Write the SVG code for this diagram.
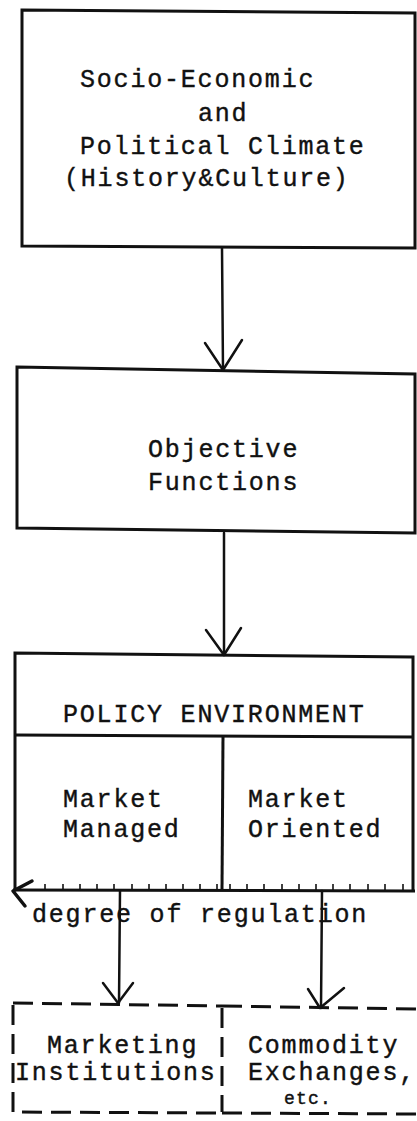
<svg xmlns="http://www.w3.org/2000/svg" width="417" height="1121" viewBox="0 0 417 1121">
<style>
.bg{fill:#ffffff}
.box{fill:none;stroke:#111;stroke-width:3;stroke-linejoin:miter}
.dash{fill:none;stroke:#111;stroke-width:3;stroke-dasharray:20 9}
.con{fill:none;stroke:#111;stroke-width:2.5;stroke-linecap:round;stroke-linejoin:round}
.tick{stroke:#111;stroke-width:1.6}
text{font-family:"Liberation Mono","Courier New",monospace;font-size:25px;letter-spacing:1.8px;fill:#111;stroke:#111;stroke-width:0.4}
.small{font-size:18px;letter-spacing:1.2px}
</style>
<rect class="bg" x="0" y="0" width="417" height="1121"/>
<g id="node-climate">
<path class="box" d="M22,10 L415,13 L415,248 L22,246 Z"/>
<text x="80" y="87">Socio-Economic</text>
<text x="198" y="121">and</text>
<text x="80" y="154">Political Climate</text>
<text x="64" y="186">(History&amp;Culture)</text>
</g>
<g id="node-objective">
<path class="box" d="M17,367 L415,374 L415,533 L17,528 Z"/>
<text x="148" y="457">Objective</text>
<text x="148" y="490">Functions</text>
</g>
<g id="node-policy">
<path class="box" d="M15,890 L15,653 L413,657 L413,891"/>
<path class="box" d="M15,735 L413,737"/>
<path class="box" d="M223,737 L222,890"/>
<text x="63" y="722">POLICY ENVIRONMENT</text>
<text x="63" y="807">Market</text>
<text x="63" y="837">Managed</text>
<text x="248" y="807">Market</text>
<text x="248" y="837">Oriented</text>
</g>
<g id="node-institutions">
<path class="dash" d="M13,1003 L222,1006"/>
<path class="dash" d="M13,1005 L13,1112 L222,1113"/>
<path class="dash" d="M222,1008 L222,1112"/>
<text x="47" y="1053">Marketing</text>
<text x="15" y="1080">Institutions</text>
</g>
<g id="node-exchanges">
<path class="dash" d="M222,1006 L417,1009"/>
<path class="dash" d="M222,1113 L417,1114"/>
<text x="248" y="1053">Commodity</text>
<text x="248" y="1080">Exchanges,</text>
<text class="small" x="284" y="1104">etc.</text>
</g>
<g id="axis-regulation">
<path class="box" d="M13,890 L415,891"/>
<g class="tick">
<line x1="45" y1="884" x2="45" y2="890"/>
<line x1="63" y1="884" x2="63" y2="890"/>
<line x1="80" y1="884" x2="80" y2="890"/>
<line x1="97" y1="884" x2="97" y2="890"/>
<line x1="114" y1="884" x2="114" y2="890"/>
<line x1="132" y1="884" x2="132" y2="890"/>
<line x1="149" y1="884" x2="149" y2="890"/>
<line x1="166" y1="884" x2="166" y2="890"/>
<line x1="183" y1="884" x2="183" y2="890"/>
<line x1="200" y1="884" x2="200" y2="890"/>
<line x1="217" y1="884" x2="217" y2="890"/>
<line x1="230" y1="884" x2="230" y2="890"/>
<line x1="247" y1="884" x2="247" y2="890"/>
<line x1="264" y1="884" x2="264" y2="890"/>
<line x1="282" y1="884" x2="282" y2="890"/>
<line x1="299" y1="884" x2="299" y2="890"/>
<line x1="316" y1="884" x2="316" y2="890"/>
<line x1="333" y1="884" x2="333" y2="890"/>
<line x1="350" y1="884" x2="350" y2="890"/>
<line x1="368" y1="884" x2="368" y2="890"/>
<line x1="385" y1="884" x2="385" y2="890"/>
<line x1="403" y1="884" x2="403" y2="890"/>
</g>
<path class="con" d="M32,881 L13,891 L25,906" style="stroke-width:3.5"/>
<text x="32" y="922">degree of regulation</text>
</g>
<g id="connectors">
<path class="con" d="M222,248 L223,370"/>
<path class="con" d="M205,343 L223,370 L242,340"/>
<path class="con" d="M224,533 L224,655"/>
<path class="con" d="M206,630 L224,655 L241,628"/>
<path class="con" d="M120,891 L119,1003"/>
<path class="con" d="M103,983 L118,1003 L133,983"/>
<path class="con" d="M322,891 L321,1008"/>
<path class="con" d="M308,989 L320,1008 L344,988"/>
</g>
</svg>
